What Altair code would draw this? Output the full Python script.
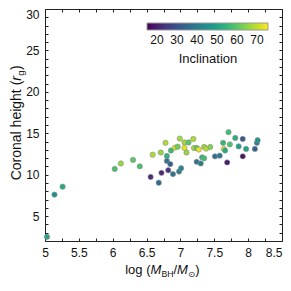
import altair as alt
import pandas as pd

# log(M_BH / M_sun)
mass = [5.03, 5.14, 5.26, 6.03, 6.12, 6.30, 6.40, 6.59, 6.56, 6.68,
        6.72, 6.71, 6.80, 6.78, 6.80, 6.82, 6.85, 6.86, 6.89, 6.92,
        6.96, 6.99, 6.98, 7.01, 7.06, 7.06, 7.09, 7.12, 7.19, 7.20,
        7.24, 7.24, 7.27, 7.30, 7.32, 7.35, 7.35, 7.38, 7.44, 7.51,
        7.58, 7.63, 7.64, 7.66, 7.69, 7.71, 7.73, 7.81, 7.86, 7.92,
        7.92, 7.97, 8.10, 8.13, 8.14]
# coronal height (r_g)
height = [2.5, 7.6, 8.56, 10.7, 11.36, 11.79, 11.01, 12.41, 9.73, 9.03,
          10.23, 12.68, 12.26, 13.85, 11.67, 10.54, 11.28, 12.92, 10.08, 13.27,
          13.39, 14.36, 10.39, 10.78, 13.89, 13.23, 12.68, 13.89, 14.32, 13.23,
          13.23, 11.56, 13.04, 11.36, 12.10, 11.98, 13.35, 13.15, 13.35, 12.22,
          12.30, 13.85, 13.11, 12.92, 11.48, 15.14, 13.66, 14.44, 13.42, 14.32,
          12.22, 13.11, 13.11, 13.85, 14.16]
# inclination (deg)
incl = [50, 45, 52, 58, 66, 60, 58, 68, 22, 37,
        22, 66, 54, 68, 38, 24, 33, 56, 38, 72,
        62, 67, 40, 43, 67, 73, 66, 60, 68, 67,
        60, 38, 74, 40, 54, 57, 67, 69, 64, 38,
        40, 55, 73, 52, 20, 57, 59, 53, 50, 32,
        18, 50, 33, 40, 46]

x_ticks = [5 + 0.25 * i for i in range(15)]
y_ticks = list(range(2, 31))
legend_values = [20, 30, 40, 50, 60, 70]

df = pd.DataFrame({"mass": mass, "height": height, "incl": incl})

FONT = "Liberation Sans"
W, H = 237, 232

xscale = alt.Scale(domain=[5, 8.5], nice=False, zero=False)
yscale = alt.Scale(domain=[2, 30], nice=False, zero=False)

common_axis = dict(offset=-3, tickSize=3, domain=False, grid=False, title=None,
                   tickColor="#222", labelColor="#111", labelFont=FONT,
                   labelFontSize=12, labelOverlap=False)

points = alt.Chart(df).mark_circle(size=28, opacity=1, stroke="#8c8c8c", strokeWidth=0.6).encode(
    x=alt.X("mass:Q", scale=xscale,
            axis=alt.Axis(orient="bottom", values=x_ticks, format="~g",
                          labelExpr="datum.value % 0.5 == 0 ? datum.label : ''",
                          labelAlign={"condition": {"test": "datum.value >= 8.5", "value": "right"},
                                      "value": "center"},
                          labelPadding=6, labelFlush=False, **common_axis)),
    y=alt.Y("height:Q", scale=yscale,
            axis=alt.Axis(orient="left", values=y_ticks, format="~g",
                          labelExpr="datum.value % 5 == 0 ? datum.label : ''",
                          labelPadding=6, labelFlush=True, **common_axis)),
    color=alt.Color("incl:Q", scale=alt.Scale(scheme="viridis", domain=[15, 75.5]),
                    legend=alt.Legend(orient="none", legendX=102, legendY=14,
                                      direction="horizontal", gradientLength=121,
                                      gradientThickness=7, titleOrient="bottom",
                                      titleAnchor="middle", values=legend_values,
                                      title="Inclination", titleFont=FONT,
                                      titleFontSize=13, titleFontWeight="normal",
                                      titleColor="#111", titlePadding=7,
                                      labelFont=FONT, labelFontSize=12,
                                      labelColor="#111", labelOffset=5, padding=0,
                                      gradientStrokeColor="#999",
                                      gradientStrokeWidth=1)),
)

mirror = alt.Chart(df).mark_circle(opacity=0).encode(
    x=alt.X("mass:Q", scale=xscale,
            axis=alt.Axis(orient="top", values=x_ticks, labels=False, **common_axis)),
    y=alt.Y("height:Q", scale=yscale,
            axis=alt.Axis(orient="right", values=y_ticks, labels=False, **common_axis)),
)

one = pd.DataFrame({"a": [0]})

def txt(text, x, y, size, dx=0, dy=0, align="left", style="normal", angle=0, font=FONT):
    kw = dict(text=text, fontSize=size, dx=dx, dy=dy, align=align, baseline="alphabetic",
              fontStyle=style, font=font, color="#111")
    if angle:
        kw["angle"] = angle
    return alt.Chart(one).mark_text(**kw).encode(x=alt.value(x), y=alt.value(y))

# x-axis title: log (M_BH / M_sun)
JX, BX = 105.5, 265
xt = [
    txt("log (", JX, BX, 13, align="right"),
    txt("M", JX, BX, 13, style="italic"),
    txt("BH", JX, BX, 8.7, dx=11, dy=3),
    txt("/", JX, BX, 13, dx=23.1),
    txt("M", JX, BX, 13, dx=26.5, style="italic"),
    txt("\u2299", JX, BX, 8.2, dx=37.6, dy=3, font="DejaVu Sans"),
    txt(")", JX, BX, 13, dx=44.8),
]

# y-axis title: Coronal height (r_g)
JY, BY = 71.7, -23.8
yt = [
    txt("Coronal height (", BY, JY, 14, align="right", angle=270),
    txt("r", BY, JY, 14, style="italic", angle=270),
    txt("g", BY, JY, 9.7, dx=5, dy=3, angle=270),
    txt(")", BY, JY, 14, dx=10.6, angle=270),
]

chart = alt.layer(points, mirror, *xt, *yt).resolve_axis(
    x="independent", y="independent"
).properties(
    width=W, height=H,
    autosize=alt.AutoSizeParams(type="none"),
    padding={"left": 37, "top": 1, "right": 1, "bottom": 42},
).configure_view(stroke="#222", strokeWidth=1)

chart.save("out.html", embed_options={"renderer": "svg", "actions": False})
